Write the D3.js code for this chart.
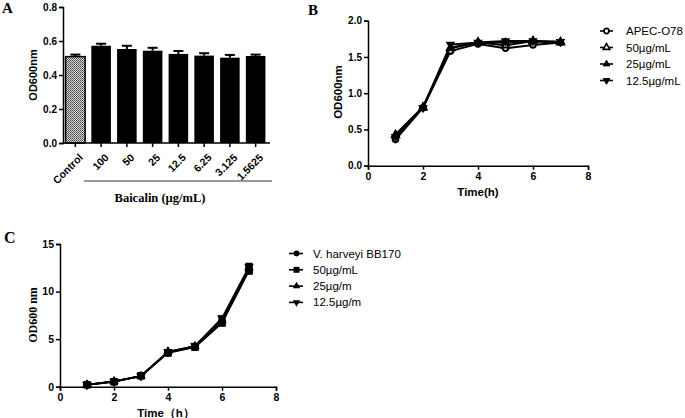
<!DOCTYPE html>
<html><head><meta charset="utf-8">
<script src="https://cdn.jsdelivr.net/npm/d3@7"></script>
<style>body{margin:0;background:#fff}svg{display:block}</style>
</head><body>
<svg id="c" width="685" height="418"></svg>
<script>
// ---- Panel A data ----
const aCategories = ["Control","100","50","25","12.5","6.25","3.125","1.5625"];
const aValues = [0.508,0.572,0.553,0.543,0.524,0.514,0.502,0.512];
const aErrors = [0.012,0.012,0.019,0.017,0.017,0.014,0.016,0.008];
const aTicks = [0,0.2,0.4,0.6,0.8];

// ---- Panel B data ----
const bTimes = [1,2,3,4,5,6,7];
const bNames = ["APEC-O78","50\u00b5g/mL","25\u00b5g/mL","12.5\u00b5g/mL"];
const bApec = [0.36,0.80,1.58,1.68,1.62,1.665,1.70];
const b50 = [0.42,0.80,1.62,1.70,1.66,1.72,1.70];
const b25 = [0.43,0.81,1.63,1.70,1.70,1.71,1.71];
const b125 = [0.40,0.80,1.67,1.70,1.72,1.72,1.71];
const bYTicks = [0,0.5,1,1.5,2];
const bXTicks = [0,2,4,6,8];

// ---- Panel C data ----
const cTimes = [1,2,3,4,5,6,7];
const cNames = ["V. harveyi BB170","50\u00b5g/mL","25\u00b5g/m","12.5\u00b5g/m"];
const cBB170 = [0.20,0.55,1.12,3.60,4.20,6.80,12.3];
const c50 = [0.20,0.52,1.15,3.55,4.15,6.70,12.2];
const c25 = [0.22,0.56,1.10,3.70,4.25,7.00,12.5];
const c125 = [0.20,0.55,1.12,3.65,4.30,7.20,12.6];
const cErr = [0.05,0.05,0.08,0.10,0.12,0.20,0.35];
const cYTicks = [0,5,10,15];
const cXTicks = [0,2,4,6,8];

const svg = d3.select("#c");
const sans = "'Liberation Sans', Arial, sans-serif";
const serif = "'Liberation Serif', 'Times New Roman', serif";

const defs = svg.append("defs");
const pat = defs.append("pattern").attr("id","dots").attr("width",2).attr("height",2).attr("patternUnits","userSpaceOnUse");
pat.append("rect").attr("width",2).attr("height",2).attr("fill","#d8d8d8");
pat.append("rect").attr("x",0).attr("y",0).attr("width",1).attr("height",1).attr("fill","#444");
pat.append("rect").attr("x",1).attr("y",1).attr("width",1).attr("height",1).attr("fill","#666");

function styleAxis(g, fs, weight, family){
  g.selectAll("path,line").attr("stroke","#000").attr("stroke-width",1.5);
  g.selectAll("text").attr("font-family",family||sans).attr("font-size",fs).attr("font-weight",weight||"bold").attr("fill","#000");
}

// ================= Panel A =================
const ax = d3.scaleBand().domain(aCategories).range([63,268]).paddingInner(0.24).paddingOuter(0.1);
const ay = d3.scaleLinear().domain([0,0.8]).range([143,7]);
const gA = svg.append("g");
gA.selectAll(".errA").data(aCategories).enter().append("g").each(function(d,i){
  const cx = ax(d)+ax.bandwidth()/2;
  const g = d3.select(this);
  g.append("line").attr("x1",cx).attr("x2",cx).attr("y1",ay(aValues[i])).attr("y2",ay(aValues[i]+aErrors[i])).attr("stroke","#000").attr("stroke-width",2);
  g.append("line").attr("x1",cx-5).attr("x2",cx+5).attr("y1",ay(aValues[i]+aErrors[i])).attr("y2",ay(aValues[i]+aErrors[i])).attr("stroke","#000").attr("stroke-width",2);
});
gA.selectAll(".barA").data(aCategories).enter().append("rect")
  .attr("x",d=>ax(d)).attr("width",ax.bandwidth())
  .attr("y",(d,i)=>ay(aValues[i])).attr("height",(d,i)=>ay(0)-ay(aValues[i]))
  .attr("fill",(d,i)=>i===0?"url(#dots)":"#000")
  .attr("stroke","#000").attr("stroke-width",(d,i)=>i===0?1.5:0);
const aYAxis = gA.append("g").attr("transform","translate(63,0)")
  .call(d3.axisLeft(ay).tickValues(aTicks).tickFormat(d3.format(".1f")).tickSizeOuter(0).tickSize(4).tickPadding(2));
styleAxis(aYAxis,10);
const aXAxis = gA.append("g").attr("transform","translate(0,143)")
  .call(d3.axisBottom(ax).tickSizeOuter(0).tickSize(4).tickPadding(2));
styleAxis(aXAxis,10.5);
aXAxis.select(".domain").attr("d","M63,0H270");
aXAxis.selectAll("text").attr("text-anchor","end").attr("dy","0").attr("dx","0")
  .attr("transform","translate(4,11) rotate(-45)");
gA.append("line").attr("x1",84).attr("x2",272).attr("y1",181).attr("y2",181).attr("stroke","#000").attr("stroke-width",0.8);
gA.append("text").attr("x",160).attr("y",202).attr("text-anchor","middle").attr("font-family",serif).attr("font-weight","bold").attr("font-size",12.5).text("Baicalin (\u00b5g/mL)");
gA.append("text").attr("transform","translate(37,75) rotate(-90)").attr("text-anchor","middle").attr("font-family",sans).attr("font-weight","bold").attr("font-size",11).text("OD600nm");
svg.append("text").attr("x",2).attr("y",13).attr("font-family",serif).attr("font-weight","bold").attr("font-size",15).text("A");

function sym(type,size){ return d3.symbol().type(type).size(size)(); }
const triDown = {draw(ctx,size){ const y = -Math.sqrt(size/(Math.sqrt(3)*3)); const s3=Math.sqrt(3); ctx.moveTo(0,-y*2); ctx.lineTo(-s3*y,y); ctx.lineTo(s3*y,y); ctx.closePath(); }};

// ================= Panel B =================
const bx = d3.scaleLinear().domain([0,8]).range([368,588]);
const by = d3.scaleLinear().domain([0,2]).range([165.7,20.7]);
const gB = svg.append("g");
const bSeries = [
  {name:bNames[0], vals:bApec, type:d3.symbolCircle, fill:"#fff", size:24, sw:1.8},
  {name:bNames[1], vals:b50, type:d3.symbolTriangle, fill:"#fff", size:22, sw:1.6},
  {name:bNames[2], vals:b25, type:d3.symbolTriangle, fill:"#000", size:22, sw:1},
  {name:bNames[3], vals:b125, type:triDown, fill:"#000", size:22, sw:1}
];
const bLine = d3.line().x((d,i)=>bx(bTimes[i])).y(d=>by(d));
bSeries.forEach(s=>{
  gB.append("path").attr("d",bLine(s.vals)).attr("fill","none").attr("stroke","#000").attr("stroke-width",2);
});
bSeries.forEach(s=>{
  gB.selectAll(null).data(s.vals).enter().append("path")
    .attr("d",sym(s.type,s.size)).attr("transform",(d,i)=>`translate(${bx(bTimes[i])},${by(d)})`)
    .attr("fill",s.fill).attr("stroke","#000").attr("stroke-width",s.sw+0.4);
});
const bYAxis = gB.append("g").attr("transform","translate(368,0)")
  .call(d3.axisLeft(by).tickValues(bYTicks).tickFormat(d3.format(".1f")).tickSizeOuter(0).tickSize(4).tickPadding(2));
styleAxis(bYAxis,10);
const bXAxis = gB.append("g").attr("transform","translate(0,165.7)")
  .call(d3.axisBottom(bx).tickValues(bXTicks).tickFormat(d3.format("d")).tickSizeOuter(0).tickSize(4).tickPadding(3));
styleAxis(bXAxis,10.5);
gB.append("text").attr("x",478).attr("y",196).attr("text-anchor","middle").attr("font-family",sans).attr("font-weight","bold").attr("font-size",11.5).text("Time(h)");
gB.append("text").attr("transform","translate(342,92) rotate(-90)").attr("text-anchor","middle").attr("font-family",sans).attr("font-weight","bold").attr("font-size",11.5).text("OD600nm");
svg.append("text").attr("x",308).attr("y",15).attr("font-family",serif).attr("font-weight","bold").attr("font-size",15).text("B");
bSeries.forEach((s,i)=>{
  const y = 31 + i*16.5;
  gB.append("line").attr("x1",600).attr("x2",613).attr("y1",y).attr("y2",y).attr("stroke","#000").attr("stroke-width",1.6);
  gB.append("path").attr("d",sym(s.type,s.size*0.85)).attr("transform",`translate(606.5,${y})`).attr("fill",s.fill).attr("stroke","#000").attr("stroke-width",s.sw);
  gB.append("text").attr("x",626).attr("y",y+4).attr("font-family",sans).attr("font-size",11.5).text(s.name);
});

// ================= Panel C =================
const cx = d3.scaleLinear().domain([0,8]).range([60,276]);
const cy = d3.scaleLinear().domain([0,15]).range([386.7,244]);
const gC = svg.append("g");
const cSeries = [
  {name:cNames[0], vals:cBB170, type:d3.symbolCircle, size:34},
  {name:cNames[1], vals:c50, type:d3.symbolSquare, size:44},
  {name:cNames[2], vals:c25, type:d3.symbolTriangle, size:30},
  {name:cNames[3], vals:c125, type:triDown, size:30}
];
const cLine = d3.line().x((d,i)=>cx(cTimes[i])).y(d=>cy(d));
cSeries.forEach(s=>{
  s.vals.forEach((v,i)=>{
    const x = cx(cTimes[i]);
    gC.append("line").attr("x1",x).attr("x2",x).attr("y1",cy(v-cErr[i])).attr("y2",cy(v+cErr[i])).attr("stroke","#000").attr("stroke-width",1.5);
    gC.append("line").attr("x1",x-3.5).attr("x2",x+3.5).attr("y1",cy(v+cErr[i])).attr("y2",cy(v+cErr[i])).attr("stroke","#000").attr("stroke-width",1.5);
    gC.append("line").attr("x1",x-3.5).attr("x2",x+3.5).attr("y1",cy(v-cErr[i])).attr("y2",cy(v-cErr[i])).attr("stroke","#000").attr("stroke-width",1.5);
  });
  gC.append("path").attr("d",cLine(s.vals)).attr("fill","none").attr("stroke","#000").attr("stroke-width",1.8);
});
cSeries.forEach(s=>{
  gC.selectAll(null).data(s.vals).enter().append("path")
    .attr("d",sym(s.type,s.size)).attr("transform",(d,i)=>`translate(${cx(cTimes[i])},${cy(d)})`)
    .attr("fill","#000").attr("stroke","#000").attr("stroke-width",1);
});
const cYAxis = gC.append("g").attr("transform","translate(60,0)")
  .call(d3.axisLeft(cy).tickValues(cYTicks).tickFormat(d3.format("d")).tickSizeOuter(0).tickSize(4).tickPadding(2));
styleAxis(cYAxis,10.5);
const cXAxis = gC.append("g").attr("transform","translate(0,386.7)")
  .call(d3.axisBottom(cx).tickValues(cXTicks).tickFormat(d3.format("d")).tickSizeOuter(0).tickSize(4).tickPadding(3));
styleAxis(cXAxis,10.5);
gC.append("text").attr("x",166).attr("y",417).attr("text-anchor","middle").attr("font-family",sans).attr("font-weight","bold").attr("font-size",11.5).text("Time\uff08h\uff09");
gC.append("text").attr("transform","translate(37,315) rotate(-90)").attr("text-anchor","middle").attr("font-family",serif).attr("font-weight","bold").attr("font-size",12).text("OD600 nm");
svg.append("text").attr("x",4).attr("y",243).attr("font-family",serif).attr("font-weight","bold").attr("font-size",16).text("C");
cSeries.forEach((s,i)=>{
  const y = 253.5 + i*16.3;
  gC.append("line").attr("x1",289).attr("x2",303).attr("y1",y).attr("y2",y).attr("stroke","#000").attr("stroke-width",1.6);
  gC.append("path").attr("d",sym(s.type,s.size*0.8)).attr("transform",`translate(296.5,${y})`).attr("fill","#000");
  gC.append("text").attr("x",313).attr("y",y+4).attr("font-family",sans).attr("font-size",11.5).text(s.name);
});
</script>
</body></html>
